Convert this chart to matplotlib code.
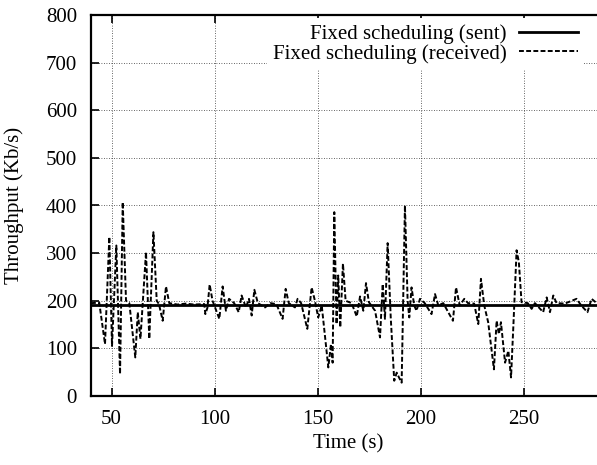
import numpy as np
import matplotlib
matplotlib.use("Agg")
import matplotlib.pyplot as plt

plt.rcParams['font.family'] = ['Liberation Serif', 'DejaVu Serif']
plt.rcParams['font.size'] = 15

# sent rate (constant)
t_sent = [40, 290]
sent = [192, 192]

# received rate
t_recv = [40, 44, 46.8, 48.9, 50.2, 52.3, 54.1, 55.4, 57, 58.6, 61.5, 62.7, 64, 66.7,
          68.3, 70.3, 71.9, 73, 74.8, 76.4, 78, 82, 86, 90, 95, 95.5, 96.5, 97.6, 99,
          102.3, 103.9, 105.5, 107, 109.5, 111.7, 113.1, 115.2, 116.7, 118, 119.3, 121,
          124.5, 127, 130, 133, 134.5, 136, 139, 140.3, 142, 145, 147.1, 148.7, 150.3,
          152, 155.2, 156.5, 157.3, 158.1, 159.2, 160, 161, 162.3, 163.6, 166.5, 169,
          170.6, 172.2, 173.5, 174.9, 177.9, 180.3, 181.6, 182.7, 184, 185.5, 187.2,
          188.4, 189.5, 190.8, 192.4, 193.7, 194.5, 195.6, 196.9, 198, 199.7, 202,
          205.3, 207, 208.6, 211, 215.7, 217.2, 219, 221.2, 223, 226, 228, 229.3, 230.9,
          232.8, 235.6, 236.9, 238, 239, 241, 242.6, 243.9, 245, 246.6, 247.7, 249, 252,
          253.9, 255.5, 259.5, 261.2, 262.8, 264.4, 266, 270, 275.7, 278, 281, 283, 285.5,
          290]
recv = [195, 196, 109, 334, 105, 316, 46, 407, 200, 195, 81, 176, 120, 302,
        120, 344, 200, 193, 158, 230, 195, 192, 194, 192, 193, 172, 185, 234, 200,
        162, 230, 179, 204, 195, 176, 211, 186, 204, 169, 223, 195,
        186, 195, 193, 162, 225, 195, 186, 204, 195, 141, 228, 200, 165,
        190, 60, 109, 70, 386, 151, 253, 144, 278, 200, 195, 167,
        209, 179, 237, 197, 179, 123, 235, 162, 321, 165, 32,
        49, 39, 28, 400, 200, 165, 228, 190, 179, 204, 195,
        172, 214, 190, 195, 158, 228, 190, 204, 195, 194, 151, 246, 190,
        155, 56, 158, 130, 155, 70, 95, 39, 144, 306, 281, 197, 195,
        183, 195, 176, 207, 176, 211, 195, 194, 204, 190, 176, 204, 195,
        194]

fig = plt.figure(figsize=(5.97, 4.65), dpi=100)
ax = fig.add_axes([91 / 597, 69 / 465, 515 / 597, 381 / 465])

ax.plot(t_sent, sent, color="black", lw=2.0, label="Fixed scheduling (sent)")
ax.plot(t_recv, recv, color="black", lw=1.4, linestyle=(0, (2.5, 1.2)),
        label="Fixed scheduling (received)")

ax.set_xlim(40, 290)
ax.set_ylim(0, 800)
ax.set_xticks([50, 100, 150, 200, 250])
ax.set_yticks(np.arange(0, 801, 100))
ax.grid(True, color="#333333", linestyle=(0, (1, 2)), linewidth=0.6)
ax.tick_params(direction="in", length=6, width=1.2, top=True, pad=10)
for s in ["left", "bottom", "top"]:
    ax.spines[s].set_linewidth(1.6)
ax.spines["right"].set_visible(False)

ax.set_xlabel("Time (s)", labelpad=4)
ax.set_ylabel("Throughput (Kb/s)", labelpad=16)

leg = ax.legend(loc="upper right", markerfirst=False, handlelength=2.8,
                handletextpad=0.6, labelspacing=0.0, borderpad=0.3,
                borderaxespad=0, frameon=True, fancybox=False,
                bbox_to_anchor=(584 / 597, 447 / 465), bbox_transform=fig.transFigure)
leg.get_frame().set_edgecolor("none")
leg.get_frame().set_facecolor("white")
leg.get_frame().set_alpha(1)
for txt in leg.get_texts():
    txt.set_ha("right")

fig.savefig("out.png", dpi=100)
